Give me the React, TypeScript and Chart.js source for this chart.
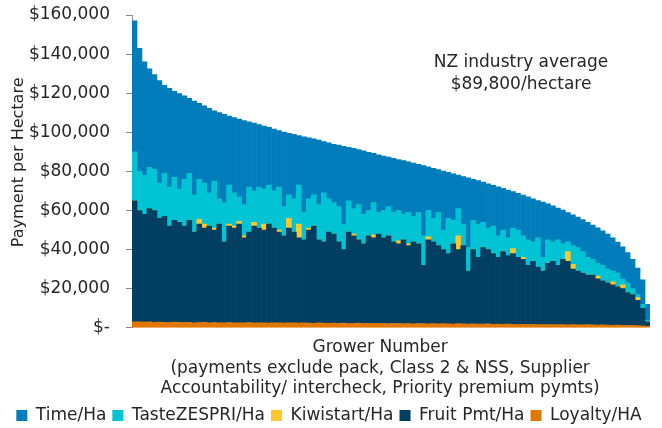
import React, { useEffect, useRef } from "react";
import { Chart, registerables } from "chart.js";

Chart.register(...registerables);

// Growers sorted by total payment per hectare (one bar per group of growers)
const loyaltyHa = [
  3100, 3000, 2900, 3000, 2800, 2900, 2800, 2700, 2900, 2800,
  2700, 2800, 2600, 2700, 2800, 2600, 2700, 2600, 2500, 2700,
  2600, 2500, 2600, 2700, 2500, 2600, 2500, 2400, 2600, 2500,
  2400, 2500, 2600, 2400, 2500, 2400, 2300, 2500, 2400, 2300,
  2400, 2300, 2400, 2200, 2300, 2400, 2200, 2300, 2200, 2300,
  2200, 2100, 2300, 2200, 2100, 2200, 2000, 2200, 2100, 2000,
  2100, 2000, 2100, 2000, 1900, 2100, 2000, 1900, 2000, 1900,
  1900, 2000, 1800, 1900, 1800, 1900, 1800, 1700, 1800, 1700,
  1800, 1700, 1600, 1700, 1600, 1700, 1600, 1500, 1600, 1500,
  1500, 1600, 1500, 1400, 1500, 1400, 1300, 1400, 1300, 1200,
  1200, 1100, 1000, 800,
];

const fruitPmtHa = [
  61900, 57000, 55100, 58000, 57200, 53100, 54200, 49300, 52100, 51200,
  49300, 52200, 46400, 50300, 48200, 49400, 47300, 50400, 41500, 49300,
  48400, 50500, 43400, 46300, 49500, 48400, 47500, 50600, 48400, 46500,
  44600, 48500, 46400, 43600, 42500, 47600, 49700, 42500, 41600, 46700,
  45600, 41700, 37600, 46800, 44700, 42600, 40800, 44700, 43800, 45700,
  43800, 44900, 41700, 40800, 42900, 39800, 42000, 40800, 29900, 43000,
  41900, 40000, 37900, 36000, 41100, 37900, 40000, 27100, 38000, 34100,
  39100, 38000, 36200, 34100, 37200, 35100, 36200, 34300, 33200, 30300,
  32200, 29300, 27400, 31300, 32400, 30300, 33400, 32500, 28400, 27500,
  26500, 25400, 25500, 23600, 22500, 21600, 20700, 19600, 18700, 16800,
  15800, 12900, 9000, 2200,
];

const kiwistartHa = [
  0, 0, 0, 0, 0, 0, 0, 0, 0, 0,
  0, 0, 0, 2500, 2000, 0, 1000, 0, 0, 1000,
  1000, 1500, 1000, 0, 2000, 0, 3000, 0, 0, 1000,
  0, 5000, 0, 7000, 0, 1000, 0, 0, 0, 0,
  0, 0, 0, 0, 1000, 0, 0, 0, 1500, 0,
  0, 0, 0, 1500, 0, 1000, 0, 0, 0, 1500,
  0, 0, 0, 0, 0, 7000, 0, 0, 0, 0,
  0, 0, 0, 0, 0, 0, 2500, 0, 1000, 0,
  0, 0, 0, 0, 0, 0, 0, 5000, 2500, 0,
  0, 0, 0, 1500, 0, 0, 1500, 0, 2000, 0,
  0, 1500, 0, 0,
];

const tasteZespriHa = [
  25000, 20000, 20000, 21000, 21000, 18000, 22000, 20000, 22000, 17000,
  24000, 24000, 19000, 20500, 21000, 17000, 24000, 13000, 20000, 20000,
  17000, 12500, 16000, 23000, 16000, 21000, 18000, 20000, 19000, 22000,
  15000, 12000, 17000, 20000, 14000, 15000, 16000, 18000, 25000, 17000,
  16000, 18000, 13000, 16000, 13000, 18000, 15000, 13000, 16500, 11000,
  14000, 15000, 15000, 15500, 13000, 16000, 13000, 16000, 15000, 13500,
  12000, 17000, 10000, 18000, 12000, 14000, 11000, 12000, 15000, 17000,
  13000, 11000, 14000, 11000, 11000, 9000, 10500, 14000, 11000, 13000,
  10000, 15000, 7000, 12000, 10000, 13000, 8000, 5000, 9500, 12000,
  11000, 9000, 8000, 6500, 8000, 7000, 5500, 7000, 3000, 5000,
  3000, 1500, 2000, 1000,
];

const timeHa = [
  67000, 63000, 58000, 50500, 48500, 52500, 45000, 50500, 44000, 48800,
  42600, 38400, 48000, 38800, 39600, 43300, 36000, 44100, 45200, 35300,
  38500, 39800, 43000, 33300, 34700, 32000, 32200, 29500, 31700, 28900,
  38100, 31500, 32900, 25300, 38700, 31200, 28700, 33000, 26300, 28600,
  29900, 31400, 39800, 27300, 30800, 28100, 32500, 29800, 25200, 29500,
  27900, 25300, 27700, 26100, 27500, 25900, 27300, 24600, 36000, 22300,
  25600, 21900, 30200, 23500, 23800, 17100, 24400, 35700, 21000, 22300,
  20500, 22700, 20900, 25100, 21300, 24500, 18700, 18800, 20900, 22000,
  22000, 19100, 28300, 18400, 18400, 16300, 17200, 15000, 15800, 15600,
  16400, 18000, 17600, 18100, 17600, 18000, 17000, 15800, 16400, 15500,
  15000, 13500, 12500, 8000,
];

const growerLabels = loyaltyHa.map((_, i) => String(i + 1));

const yTicks = [0, 20000, 40000, 60000, 80000, 100000, 120000, 140000, 160000];

const xTitleLines = [
  "Grower Number",
  "(payments exclude pack, Class 2 & NSS, Supplier",
  "Accountability/ intercheck, Priority premium pymts)",
];
const yTitle = "Payment per Hectare";

const noteLines = ["NZ industry average", "$89,800/hectare"];

const FONT = '"DejaVu Sans", Verdana, sans-serif';
const TEXT = "#262626";
const X_TITLE_SIZE = 17;
const X_TITLE_LH = 20.4;

export default function App() {
  const ref = useRef<HTMLCanvasElement | null>(null);

  useEffect(() => {
    if (!ref.current) return;
    const textPlugin = {
      id: "texts",
      afterDraw(chart: any) {
        const { ctx, chartArea } = chart;
        const ys = chart.scales.y;
        const xs = chart.scales.x;
        const w = chartArea.right - chartArea.left;
        const h = chartArea.bottom - chartArea.top;
        ctx.save();
        ctx.fillStyle = TEXT;
        ctx.textAlign = "center";
        ctx.textBaseline = "middle";
        // annotation
        ctx.font = `17px ${FONT}`;
        const cx = chartArea.left + w * 0.751;
        ctx.fillText(noteLines[0], cx, ys.getPixelForValue(135800));
        ctx.fillText(noteLines[1], cx, ys.getPixelForValue(124500));
        // x axis title (slightly left of the plot centre, as in the source)
        ctx.font = `${X_TITLE_SIZE}px ${FONT}`;
        const tx = chartArea.left + w * 0.479;
        const top = xs.bottom - X_TITLE_LH * xTitleLines.length - 2;
        xTitleLines.forEach((line, k) => {
          ctx.fillText(line, tx, top + X_TITLE_LH * (k + 0.5));
        });
        // y axis title
        ctx.font = `16px ${FONT}`;
        ctx.translate(ys.left + 11, chartArea.top + h * 0.471);
        ctx.rotate(-Math.PI / 2);
        ctx.fillText(yTitle, 0, 0);
        ctx.restore();
      },
    };

    const common = {
      borderWidth: 0,
      barPercentage: 1,
      categoryPercentage: 1,
    };

    const chart = new Chart(ref.current, {
      type: "bar",
      data: {
        labels: growerLabels,
        datasets: [
          { label: "Loyalty/HA", data: loyaltyHa, backgroundColor: "#E07800", ...common },
          { label: "Fruit Pmt/Ha", data: fruitPmtHa, backgroundColor: "#003F62", ...common },
          { label: "Kiwistart/Ha", data: kiwistartHa, backgroundColor: "#FFC72C", ...common },
          { label: "TasteZESPRI/Ha", data: tasteZespriHa, backgroundColor: "#00C3D4", ...common },
          { label: "Time/Ha", data: timeHa, backgroundColor: "#007DBA", ...common },
        ],
      },
      options: {
        animation: false,
        responsive: true,
        maintainAspectRatio: false,
        layout: { padding: { left: 8, right: 12, top: 0, bottom: -6 } },
        plugins: {
          tooltip: { enabled: false },
          legend: {
            position: "bottom",
            reverse: true,
            labels: {
              color: TEXT,
              font: { family: FONT, size: 17 },
              boxWidth: 11,
              boxHeight: 11,
              padding: 6,
            },
          },
        },
        scales: {
          x: {
            stacked: true,
            ticks: { display: false },
            grid: { display: false },
            border: { display: false },
            title: {
              display: true,
              text: xTitleLines,
              color: "rgba(0,0,0,0)",
              font: { family: FONT, size: X_TITLE_SIZE, lineHeight: X_TITLE_LH / X_TITLE_SIZE },
              padding: { top: 4, bottom: 0 },
            },
          },
          y: {
            stacked: true,
            min: 0,
            max: 160000,
            afterBuildTicks: (scale: any) => {
              scale.ticks = yTicks.map((v) => ({ value: v }));
            },
            afterFit: (scale: any) => {
              scale.width = 124;
              scale.paddingTop = 15;
              scale.paddingBottom = 2;
            },
            ticks: {
              color: TEXT,
              font: { family: FONT, size: 17 },
              padding: 16,
              callback: (v: any) =>
                Number(v) === 0 ? "$-" : "$" + Number(v).toLocaleString("en-US"),
            },
            grid: {
              drawOnChartArea: false,
              drawTicks: true,
              tickLength: 6,
              color: "#8c8c8c",
            },
            border: { display: true, color: "#8c8c8c", width: 1 },
            title: {
              display: true,
              text: yTitle,
              color: "rgba(0,0,0,0)",
              font: { family: FONT, size: 16 },
              padding: { top: 0, bottom: 0 },
            },
          },
        },
      },
      plugins: [textPlugin],
    });
    return () => chart.destroy();
  }, []);

  return (
    <div style={{ position: "absolute", left: 0, top: 0, width: 662, height: 428 }}>
      <canvas ref={ref} />
    </div>
  );
}
